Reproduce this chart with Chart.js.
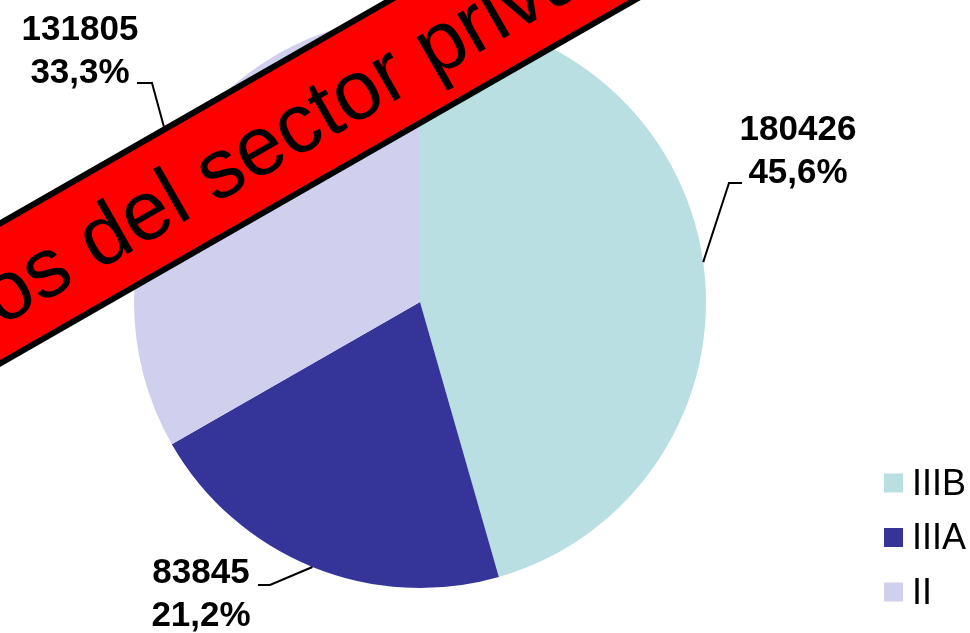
<!DOCTYPE html>
<html>
<head>
<meta charset="utf-8">
<script src="https://cdn.jsdelivr.net/npm/chart.js@4.4.1/dist/chart.umd.min.js"></script>
<style>
  html, body { margin: 0; padding: 0; background: #fff; }
  #wrap { width: 970px; height: 633px; position: relative; }
</style>
</head>
<body>
<div id="wrap"><canvas id="pieChart"></canvas></div>
<script>
// datos del grafico
var categories = ['IIIB', 'IIIA', 'II'];
var values = [180426, 83845, 131805];
var sliceColors = ['#B9DFE2', '#353599', '#D0D0EE'];
var stampText = 'Datos del sector privado';

var total = values.reduce(function (a, b) { return a + b; }, 0);
function pct(i) {
    return (values[i] / total * 100).toFixed(1).replace('.', ',') + '%';
}

// where each outside label sits (x = centre of text, y = first baseline)
var labelPos = [
    { x: 798, y: 140, elbow: [729, 183], end: [742, 183] },
    { x: 201, y: 583, elbow: [270, 585], end: [258, 585] },
    { x: 80, y: 40, elbow: [152, 83], end: [137, 83] }
];
var FONT = '"Liberation Sans", Arial, sans-serif';

var outLabels = {
    id: 'outLabels',
    afterDatasetsDraw: function (chart) {
        var ctx = chart.ctx;
        var meta = chart.getDatasetMeta(0);
        ctx.save();
        meta.data.forEach(function (arc, i) {
            var p = arc.getProps(['x', 'y', 'startAngle', 'endAngle', 'outerRadius'], true);
            var mid = (p.startAngle + p.endAngle) / 2;
            var ex = p.x + Math.cos(mid) * p.outerRadius;
            var ey = p.y + Math.sin(mid) * p.outerRadius;
            var lp = labelPos[i];
            ctx.beginPath();
            ctx.moveTo(ex, ey);
            ctx.lineTo(lp.elbow[0], lp.elbow[1]);
            ctx.lineTo(lp.end[0], lp.end[1]);
            ctx.strokeStyle = '#000';
            ctx.lineWidth = 2;
            ctx.stroke();
            ctx.font = 'bold 35px ' + FONT;
            ctx.fillStyle = '#000';
            ctx.textAlign = 'center';
            ctx.textBaseline = 'alphabetic';
            ctx.fillText(String(values[i]), lp.x, lp.y);
            ctx.fillText(pct(i), lp.x, lp.y + 43);
        });
        ctx.restore();
    }
};

// legend bottom right
var sideLegend = {
    id: 'sideLegend',
    afterDraw: function (chart) {
        var ctx = chart.ctx;
        ctx.save();
        ctx.font = '36px ' + FONT;
        ctx.textAlign = 'left';
        ctx.textBaseline = 'middle';
        for (var i = 0; i < categories.length; i++) {
            var cy = 483 + i * 54.5;
            ctx.fillStyle = sliceColors[i];
            ctx.fillRect(884, cy - 9.5, 19, 19);
            ctx.fillStyle = '#000';
            ctx.fillText(categories[i], 912, cy + 2);
        }
        ctx.restore();
    }
};

// red stamp across the chart
var stamp = {
    id: 'stamp',
    afterDraw: function (chart) {
        var ctx = chart.ctx;
        ctx.save();
        ctx.translate(0, 293.5);
        ctx.rotate(-29.8 * Math.PI / 180);
        ctx.fillStyle = '#FF0000';
        ctx.fillRect(-400, -60.75, 1700, 121.5);
        ctx.lineWidth = 6;
        ctx.strokeStyle = '#000';
        ctx.strokeRect(-400, -60.75, 1700, 121.5);
        ctx.font = '84px ' + FONT;
        ctx.fillStyle = '#000';
        ctx.textAlign = 'left';
        ctx.textBaseline = 'alphabetic';
        ctx.fillText(stampText, -147, 29);
        ctx.restore();
    }
};

var pieChart = new Chart(document.getElementById('pieChart'), {
    type: 'pie',
    data: {
        labels: categories,
        datasets: [{
            data: values,
            backgroundColor: sliceColors,
            borderWidth: 0
        }]
    },
    options: {
        responsive: true,
        maintainAspectRatio: false,
        animation: false,
        layout: {
            padding: { left: 134, right: 264, top: 16, bottom: 45 }
        },
        plugins: {
            legend: { display: false },
            tooltip: { enabled: false }
        }
    },
    plugins: [outLabels, sideLegend, stamp]
});
</script>
</body>
</html>
